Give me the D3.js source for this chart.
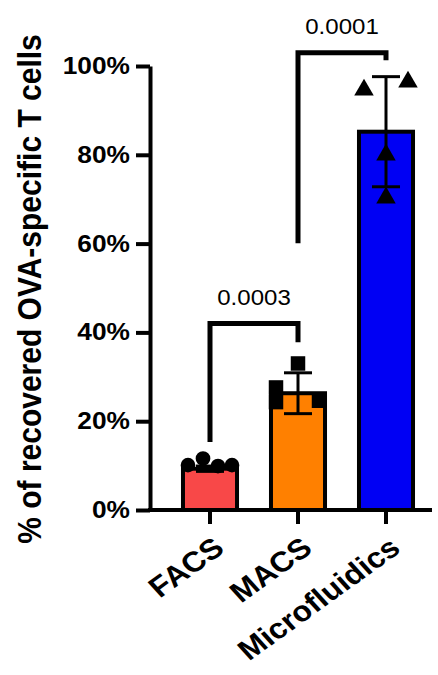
<!DOCTYPE html>
<html>
<head>
<meta charset="utf-8">
<script src="https://cdn.jsdelivr.net/npm/d3@7"></script>
<style>
  html, body { margin: 0; padding: 0; background: #fff; }
  svg { display: block; }
  text { font-family: "Liberation Sans", Arial, Helvetica, sans-serif; }
</style>
</head>
<body>
<div id="chart"></div>
<script>
// ---- data ----
const categories = ["FACS", "MACS", "Microfluidics"];
const means = [9.3, 26.3, 85.2];
const sds = [0.6, 4.6, 12.4];
const colors = ["#F84848", "#FF8000", "#0000F4"];
const markers = ["circle", "square", "triangle"];
const pointValues = [
  [10.1, 11.6, 9.9, 10.1],
  [27.6, 24.3, 33.0, 24.6],
  [94.6, 96.4, 80.0, 70.3]
];
const pointOffsets = [
  [-22, -7, 8, 22],
  [-22, -22, 0, 21],
  [-22, 22, 0, 0]
];
const yTicks = [0, 20, 40, 60, 80, 100];
const yTickLabels = ["0%", "20%", "40%", "60%", "80%", "100%"];
const yTitle = "% of recovered OVA-specific T cells";
const bracketFrom = ["FACS", "MACS"];
const bracketTo = ["MACS", "Microfluidics"];
const bracketLevel = [42.0, 103.0];
const bracketLeftEnd = [15.3, 60.1];
const bracketRightEnd = [37.8, 101.3];
const bracketLabels = ["0.0003", "0.0001"];

// ---- layout ----
const W = 438, H = 675;
const SX = 1.12; // horizontal stretch of the text in the reference
const svg = d3.select("#chart").append("svg").attr("width", W).attr("height", H);

const y = d3.scaleLinear().domain([0, 100]).range([510, 66]);
const x = d3.scaleBand().domain(categories).range([166, 430]).paddingInner(0.386).paddingOuter(0.193);
const cx = c => x(c) + x.bandwidth() / 2;

// bars
svg.append("g").selectAll("rect").data(categories).join("rect")
  .attr("x", d => x(d))
  .attr("width", x.bandwidth())
  .attr("y", (d, i) => y(means[i]))
  .attr("height", (d, i) => y(0) - y(means[i]))
  .attr("fill", (d, i) => colors[i])
  .attr("stroke", "#000")
  .attr("stroke-width", 4);

// error bars
const eb = svg.append("g").attr("stroke", "#000").attr("stroke-width", 3).attr("fill", "none");
categories.forEach((c, i) => {
  const hi = y(means[i] + sds[i]), lo = y(means[i] - sds[i]);
  eb.append("line").attr("x1", cx(c)).attr("x2", cx(c)).attr("y1", hi).attr("y2", lo);
  eb.append("line").attr("x1", cx(c) - 14).attr("x2", cx(c) + 14).attr("y1", hi).attr("y2", hi);
  eb.append("line").attr("x1", cx(c) - 14).attr("x2", cx(c) + 14).attr("y1", lo).attr("y2", lo);
});

// points
const symType = { circle: d3.symbolCircle, square: d3.symbolSquare, triangle: d3.symbolTriangle };
const symSize = { circle: 170, square: 210, triangle: 165 };
const pts = svg.append("g");
categories.forEach((c, i) => {
  pointValues[i].forEach((v, j) => {
    pts.append("path")
      .attr("d", d3.symbol().type(symType[markers[i]]).size(symSize[markers[i]])())
      .attr("transform", `translate(${cx(c) + pointOffsets[i][j]},${y(v)})`)
      .attr("fill", "#000");
  });
});

// y axis
const yAxis = svg.append("g").attr("transform", "translate(150,0)")
  .call(d3.axisLeft(y).tickValues(yTicks).tickFormat((d, i) => yTickLabels[i]).tickSize(14).tickSizeOuter(0).tickPadding(6));
yAxis.select(".domain").attr("stroke", "#000").attr("stroke-width", 4);
yAxis.selectAll(".tick line").attr("stroke", "#000").attr("stroke-width", 4);
yAxis.selectAll(".tick text")
  .attr("x", 0)
  .attr("transform", `translate(-20,0) scale(${SX},1)`)
  .attr("font-size", 23.5).attr("font-weight", "bold").attr("fill", "#000")
  .attr("font-family", "'Liberation Sans', Arial, sans-serif");

// x axis
const xAxisG = svg.append("g").attr("transform", `translate(0,${y(0)})`);
xAxisG.append("line").attr("x1", 148).attr("x2", 432).attr("y1", 0).attr("y2", 0)
  .attr("stroke", "#000").attr("stroke-width", 4);
xAxisG.selectAll("line.tk").data(categories).join("line").attr("class", "tk")
  .attr("x1", d => cx(d)).attr("x2", d => cx(d)).attr("y1", 0).attr("y2", 14)
  .attr("stroke", "#000").attr("stroke-width", 4);
svg.append("g").selectAll("text").data(categories).join("text")
  .attr("transform", d => `translate(${cx(d) + 16},551) scale(${SX},1) rotate(-39)`)
  .attr("text-anchor", "end")
  .attr("font-size", 28.5)
  .attr("font-weight", "bold")
  .text(d => d);

// y title
svg.append("text")
  .attr("transform", `translate(41,289) scale(${SX},1) rotate(-90)`)
  .attr("text-anchor", "middle")
  .attr("font-size", 30)
  .attr("font-weight", "bold")
  .text(yTitle);

// brackets
const br = svg.append("g");
bracketLabels.forEach((lab, i) => {
  const x1 = cx(bracketFrom[i]), x2 = cx(bracketTo[i]);
  br.append("path")
    .attr("d", `M${x1},${y(bracketLeftEnd[i])} V${y(bracketLevel[i])} H${x2} V${y(bracketRightEnd[i])}`)
    .attr("fill", "none").attr("stroke", "#000").attr("stroke-width", 5).attr("stroke-linejoin", "miter");
  br.append("text")
    .attr("transform", `translate(${(x1 + x2) / 2},${y(bracketLevel[i]) - 19}) scale(${SX},1)`)
    .attr("text-anchor", "middle")
    .attr("font-size", 21.5)
    .text(lab);
});
</script>
</body>
</html>
